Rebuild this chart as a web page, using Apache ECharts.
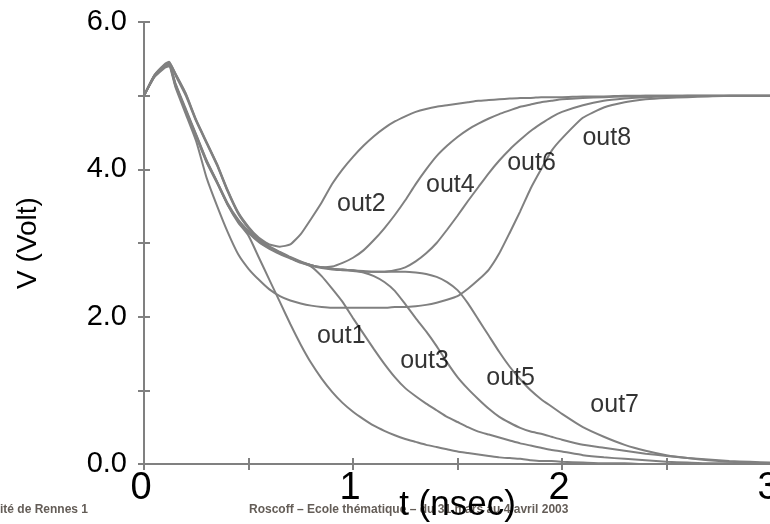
<!DOCTYPE html>
<html><head><meta charset="utf-8">
<script src="https://cdn.jsdelivr.net/npm/echarts@6/dist/echarts.min.js"></script>
<style>html,body{margin:0;padding:0;background:#fff}#c{width:770px;height:524px}</style>
</head><body><div id="c"></div>
<script>
// time axis (nsec)
const time = [0,0.05,0.1,0.12,0.15,0.2,0.25,0.3,0.35,0.4,0.45,0.5,0.55,0.6,0.65,0.7,0.75,0.8,0.85,0.9,0.95,1.0,1.05,1.1,1.15,1.2,1.25,1.3,1.35,1.4,1.45,1.5,1.55,1.6,1.65,1.7,1.75,1.8,1.85,1.9,1.95,2.0,2.1,2.2,2.3,2.4,2.5,2.6,2.7,2.8,2.9,3.0];
// voltages (Volt)
const out1 = [5.0,5.26,5.4,5.43,5.15,4.8,4.45,4.1,3.82,3.52,3.28,3.1, 2.8,2.5,2.2,1.9,1.62,1.37,1.16,0.98,0.83,0.71, 0.61,0.52,0.45,0.39,0.34,0.3,0.26,0.23,0.2,0.17, 0.15,0.13,0.11,0.09,0.08,0.07,0.05,0.04,0.04,0.03, 0.02,0.01,0.01,0,0,0,0,0,0,0];
const out2 = [5.0,5.27,5.41,5.45,5.3,5.03,4.67,4.37,4.07,3.72,3.42,3.22, 3.07,2.98,2.95,2.98,3.12,3.33,3.55,3.8,4.0,4.17, 4.32,4.45,4.56,4.65,4.72,4.78,4.82,4.85,4.87,4.89, 4.91,4.93,4.94,4.95,4.96,4.97,4.97,4.98,4.98,4.98, 4.99,4.99,5.0,5.0,5.0,5.0,5.0,5.0,5.0,5.0];
const out3 = [5.0,5.27,5.42,5.44,5.17,4.82,4.47,4.12,3.83,3.54,3.32,3.16, 3.03,2.94,2.87,2.8,2.74,2.68,2.55,2.38,2.2,1.98, 1.77,1.56,1.36,1.18,1.03,0.92,0.82,0.73,0.64,0.57, 0.5,0.44,0.4,0.36,0.32,0.28,0.25,0.22,0.19,0.17, 0.12,0.09,0.07,0.05,0.03,0.02,0.01,0.01,0,0];
const out4 = [5.0,5.28,5.42,5.44,5.28,5.0,4.65,4.35,4.05,3.7,3.4,3.2, 3.05,2.95,2.88,2.81,2.75,2.7,2.67,2.68,2.73,2.8, 2.9,3.04,3.2,3.38,3.58,3.8,4.0,4.18,4.32,4.44, 4.54,4.62,4.69,4.75,4.8,4.85,4.88,4.91,4.93,4.95, 4.97,4.98,4.99,5.0,5.0,5.0,5.0,5.0,5.0,5.0];
const out5 = [5.0,5.26,5.41,5.43,5.16,4.8,4.46,4.11,3.83,3.53,3.31,3.15, 3.02,2.93,2.86,2.8,2.74,2.7,2.67,2.65,2.64,2.63, 2.6,2.55,2.47,2.35,2.17,1.98,1.8,1.6,1.38,1.18, 1.02,0.88,0.75,0.64,0.56,0.49,0.44,0.41,0.37,0.33, 0.26,0.22,0.18,0.14,0.11,0.08,0.06,0.04,0.03,0.02];
const out6 = [5.0,5.27,5.4,5.42,5.14,4.79,4.44,4.09,3.81,3.52,3.3,3.14, 3.01,2.92,2.85,2.79,2.73,2.69,2.66,2.64,2.63,2.62, 2.61,2.61,2.61,2.63,2.67,2.75,2.86,3.0,3.18,3.37, 3.57,3.76,3.95,4.12,4.27,4.4,4.52,4.62,4.71,4.78, 4.87,4.93,4.96,4.98,4.99,5.0,5.0,5.0,5.0,5.0];
const out7 = [5.0,5.28,5.43,5.46,5.3,5.02,4.66,4.36,4.06,3.71,3.41,3.21, 3.05,2.95,2.87,2.8,2.74,2.7,2.67,2.65,2.64,2.63, 2.62,2.61,2.61,2.61,2.61,2.6,2.58,2.54,2.47,2.36, 2.18,1.96,1.74,1.52,1.32,1.15,1.0,0.88,0.78,0.68, 0.5,0.37,0.26,0.18,0.12,0.08,0.05,0.03,0.02,0.01];
const out8 = [5.0,5.25,5.38,5.4,5.12,4.75,4.38,3.88,3.5,3.15,2.85,2.65, 2.5,2.37,2.28,2.22,2.18,2.15,2.13,2.12,2.12,2.12, 2.12,2.12,2.12,2.13,2.13,2.14,2.16,2.19,2.23,2.28, 2.38,2.5,2.64,2.86,3.14,3.43,3.74,4.0,4.25,4.42, 4.7,4.84,4.91,4.95,4.97,4.98,4.99,5.0,5.0,5.0];
const seriesNames = ['out1','out2','out3','out4','out5','out6','out7','out8'];
const seriesValues = [out1,out2,out3,out4,out5,out6,out7,out8];
// curve annotation labels (data coordinates)
const labelText = ['out1','out2','out3','out4','out5','out6','out7','out8'];
const labelX = [0.944,1.04,1.342,1.466,1.754,1.854,2.252,2.214];
const labelY = [1.74,3.53,1.40,3.79,1.17,4.09,0.80,4.43];
// tick labels
const xTickLabels = ['0','1','2','3'];
const yTickLabels = ['0.0','2.0','4.0','6.0'];
const xTitle = 't (nsec)';
const yTitle = 'V (Volt)';
const footerLeft = 'ité de Rennes 1';
const footerCenter = 'Roscoff – Ecole thématique – du 31 mars au 4 avril 2003';

const FONT = "'Liberation Sans', Arial, sans-serif";
const AX = '#808080';
const chart = echarts.init(document.getElementById('c'), null, {renderer:'canvas'});
const axisCommon = {
  type:'value',
  axisLine:{show:true, lineStyle:{color:AX, width:2}},
  axisTick:{show:true, inside:true, length:6, lineStyle:{color:AX, width:2}},
  splitLine:{show:false}
};
const series = seriesValues.map((arr, k) => ({
  name: seriesNames[k], type:'line', xAxisIndex:0, yAxisIndex:0,
  data: time.map((t,i)=>[t, arr[i]]),
  showSymbol:false, symbol:'none', smooth:0.15,
  lineStyle:{color:AX, width:2}, z:2
}));
series.push({
  type:'scatter', xAxisIndex:0, yAxisIndex:0, silent:true,
  data: labelX.map((x,i)=>[x, labelY[i], labelText[i]]),
  symbolSize:1, itemStyle:{color:'rgba(0,0,0,0)'},
  label:{show:true, position:'inside', formatter:p=>p.data[2], color:'#000', fontSize:25, fontFamily:FONT},
  z:5
});
chart.setOption({
  animation:false,
  backgroundColor:'#fff',
  grid:{left:144, right:-1, top:22, bottom:60, containLabel:false, outerBoundsMode:'none'},
  xAxis:[
    Object.assign({}, axisCommon, {position:'bottom', min:0, max:3, interval:0.5,
      axisLabel:{color:'#000', fontSize:38, fontFamily:FONT, margin:6, padding:[0,6,0,0],
        formatter:v=>Number.isInteger(v)?xTickLabels[v]:''},
      name:xTitle, nameLocation:'middle', nameGap:24, nameMoveOverlap:false,
      nameTextStyle:{color:'#000', fontSize:35, fontFamily:FONT}}),
    Object.assign({}, axisCommon, {position:'top', min:0, max:3, interval:0.5, axisLabel:{show:false}})
  ],
  yAxis:[
    Object.assign({}, axisCommon, {position:'left', min:0, max:6, interval:1,
      axisLabel:{color:'#000', fontSize:29, fontFamily:FONT, margin:17,
        formatter:v=>(v%2===0)?yTickLabels[v/2]:''},
      name:yTitle, nameLocation:'middle', nameGap:102, nameRotate:90, nameMoveOverlap:false,
      nameTextStyle:{color:'#000', fontSize:28, fontFamily:FONT}}),
    Object.assign({}, axisCommon, {position:'right', min:0, max:6, interval:1, axisLabel:{show:false}})
  ],
  graphic:[
    {type:'text', left:0, top:504, z:-1, style:{text:footerLeft, fill:'#645d57', font:"bold 12px "+FONT}},
    {type:'text', left:249, top:504, z:-1, style:{text:footerCenter, fill:'#645d57', font:"bold 12px "+FONT}}
  ],
  series: series
});
</script></body></html>
